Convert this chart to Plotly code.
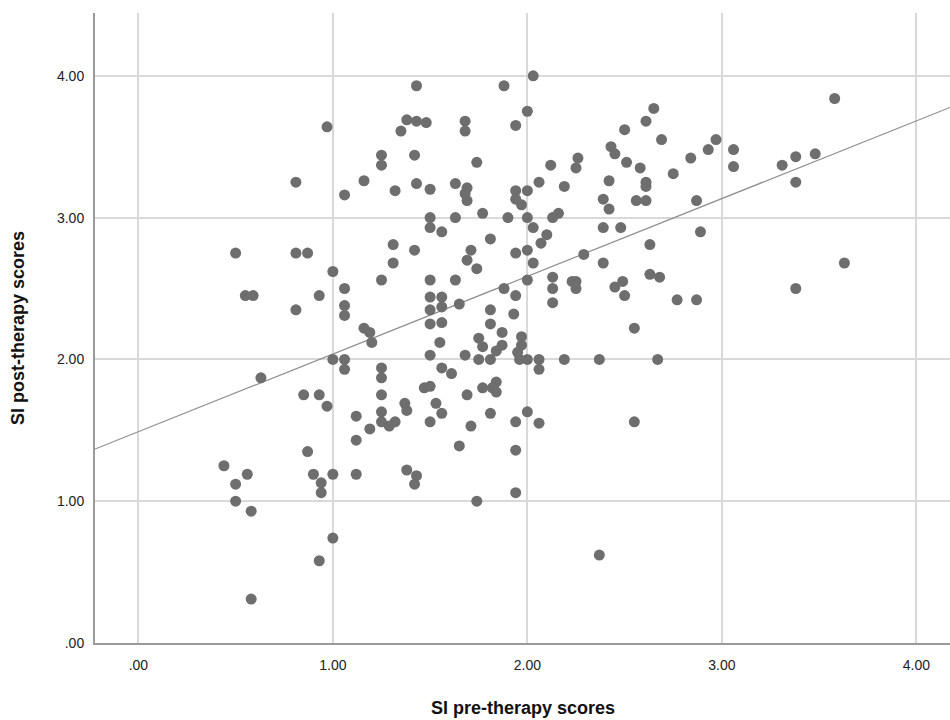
import plotly.graph_objects as go

# SI pre-therapy scores (x) and SI post-therapy scores (y)
pre_scores = [
    1.43, 0.97, 1.38, 1.43, 1.48, 1.35, 1.25, 1.25, 1.42, 0.81, 1.16, 1.06, 1.32, 1.43,
    1.88, 2.03, 2.00, 1.68, 1.68, 1.94, 1.74, 2.12, 2.26, 2.25, 2.50, 2.43, 2.45, 2.51,
    1.50, 1.63, 1.69, 1.68, 1.69, 1.94, 1.94, 1.97, 2.00, 2.06, 2.19, 2.42, 2.39, 2.42,
    2.39, 2.48, 1.50, 1.50, 1.56, 1.63, 1.77, 1.90, 2.00, 2.03, 2.13, 2.16, 1.81, 2.10,
    2.07,
    2.65, 2.61, 2.69, 2.97, 2.93, 3.06, 3.06, 2.84, 2.58, 2.61, 2.61, 2.75, 2.56, 2.61,
    2.87, 3.31, 3.38, 3.48, 3.38, 3.58, 2.89, 2.63, 3.63, 3.38,
    0.50, 0.81, 0.87, 1.00, 1.31, 1.42, 1.31, 1.25, 0.55, 0.59, 0.93, 0.81, 1.06, 1.06,
    1.06, 1.16, 1.19, 1.20, 1.00, 1.06, 1.06, 0.63, 1.25, 1.25, 1.25, 0.85, 0.93, 0.97,
    1.12, 1.25, 1.25, 1.19, 1.29, 1.32, 1.37, 1.38,
    1.71, 1.69, 1.74, 1.94, 2.00, 2.03, 2.29, 2.39, 1.50, 1.63, 1.88, 2.00, 1.94, 2.13,
    2.13, 2.13, 2.23, 2.25, 2.25, 2.45, 2.49, 2.50, 1.50, 1.50, 1.56, 1.56, 1.65, 1.50,
    1.56, 1.81, 1.81, 1.93, 1.55, 1.75, 1.77, 1.87, 1.87, 1.84, 1.97, 1.97, 1.95, 1.50,
    1.68, 1.75, 1.81, 1.96, 2.00, 2.06, 2.06, 2.19, 2.37, 1.56, 1.61, 1.47, 1.50, 1.77,
    1.82, 1.84, 1.84, 1.69, 1.53, 1.56, 1.50, 1.81, 1.94, 2.00, 2.06, 1.71, 2.55,
    2.63, 2.68, 2.77, 2.87, 2.55, 2.67,
    1.12, 0.87, 0.44, 0.56, 0.50, 0.90, 1.00, 0.94, 0.94, 1.12, 0.50, 0.58, 1.00, 0.93,
    0.58, 1.38, 1.43, 1.42,
    1.65, 1.94, 1.74, 1.94, 2.37,
]
post_scores = [
    3.93, 3.64, 3.69, 3.68, 3.67, 3.61, 3.44, 3.37, 3.44, 3.25, 3.26, 3.16, 3.19, 3.24,
    3.93, 4.00, 3.75, 3.68, 3.61, 3.65, 3.39, 3.37, 3.42, 3.35, 3.62, 3.50, 3.45, 3.39,
    3.20, 3.24, 3.21, 3.17, 3.12, 3.19, 3.13, 3.09, 3.19, 3.25, 3.22, 3.26, 3.13, 3.06,
    2.93, 2.93, 3.00, 2.93, 2.90, 3.00, 3.03, 3.00, 3.00, 2.93, 3.00, 3.03, 2.85, 2.88,
    2.82,
    3.77, 3.68, 3.55, 3.55, 3.48, 3.48, 3.36, 3.42, 3.35, 3.25, 3.22, 3.31, 3.12, 3.12,
    3.12, 3.37, 3.43, 3.45, 3.25, 3.84, 2.90, 2.81, 2.68, 2.50,
    2.75, 2.75, 2.75, 2.62, 2.81, 2.77, 2.68, 2.56, 2.45, 2.45, 2.45, 2.35, 2.50, 2.38,
    2.31, 2.22, 2.19, 2.12, 2.00, 2.00, 1.93, 1.87, 1.94, 1.87, 1.75, 1.75, 1.75, 1.67,
    1.60, 1.63, 1.56, 1.51, 1.53, 1.56, 1.69, 1.64,
    2.77, 2.70, 2.64, 2.75, 2.77, 2.68, 2.74, 2.68, 2.56, 2.56, 2.50, 2.56, 2.45, 2.58,
    2.50, 2.40, 2.55, 2.55, 2.50, 2.51, 2.55, 2.45, 2.44, 2.35, 2.44, 2.37, 2.39, 2.25,
    2.26, 2.35, 2.25, 2.32, 2.12, 2.15, 2.09, 2.19, 2.10, 2.06, 2.16, 2.10, 2.05, 2.03,
    2.03, 2.00, 2.00, 2.00, 2.00, 2.00, 1.93, 2.00, 2.00, 1.94, 1.90, 1.80, 1.81, 1.80,
    1.80, 1.84, 1.77, 1.75, 1.69, 1.62, 1.56, 1.62, 1.56, 1.63, 1.55, 1.53, 1.56,
    2.60, 2.58, 2.42, 2.42, 2.22, 2.00,
    1.43, 1.35, 1.25, 1.19, 1.12, 1.19, 1.19, 1.13, 1.06, 1.19, 1.00, 0.93, 0.74, 0.58,
    0.31, 1.22, 1.18, 1.12,
    1.39, 1.36, 1.00, 1.06, 0.62,
]

# Linear fit line (intercept, slope)
fit_intercept = 1.49
fit_slope = 0.548

x_range = [-0.223, 4.173]
y_range = [0.0, 4.443]
tick_vals = [0, 1, 2, 3, 4]
tick_text = [".00", "1.00", "2.00", "3.00", "4.00"]

x_title = "SI pre-therapy scores"
y_title = "SI post-therapy scores"

fit_x = x_range
fit_y = [fit_intercept + fit_slope * v for v in fit_x]

FONT = "Liberation Sans, Arial, sans-serif"

fig = go.Figure()
fig.add_trace(go.Scatter(
    x=fit_x, y=fit_y, mode="lines",
    line=dict(color="#8c8c8c", width=1.2),
    hoverinfo="skip", showlegend=False,
))
fig.add_trace(go.Scatter(
    x=pre_scores, y=post_scores, mode="markers",
    marker=dict(size=11, color="#6e6e6e", line=dict(width=0)),
    showlegend=False,
))

axis_common = dict(
    showgrid=True, gridcolor="#d9d9d9", gridwidth=1.5,
    showline=True, linecolor="#9a9a9a", linewidth=2,
    zeroline=False, ticks="outside", tickcolor="rgba(0,0,0,0)",
    tickfont=dict(family=FONT, size=14, color="#222222"),
    tickvals=tick_vals, ticktext=tick_text,
)

fig.update_layout(
    width=950, height=720,
    margin=dict(l=95, r=0, t=13, b=77),
    paper_bgcolor="white", plot_bgcolor="white",
    xaxis=dict(range=x_range, ticklen=8, **axis_common),
    yaxis=dict(range=y_range, ticklen=6, **axis_common),
    annotations=[
        dict(text="<b>" + x_title + "</b>", xref="paper", yref="paper", x=0.5, y=0,
             xanchor="center", yanchor="middle", yshift=-65, showarrow=False,
             font=dict(family=FONT, size=18, color="#111111")),
        dict(text="<b>" + y_title + "</b>", xref="paper", yref="paper", x=0, y=0.5,
             xanchor="center", yanchor="middle", xshift=-77, textangle=-90,
             showarrow=False,
             font=dict(family=FONT, size=18, color="#111111")),
    ],
)

fig.write_html("out.html")
